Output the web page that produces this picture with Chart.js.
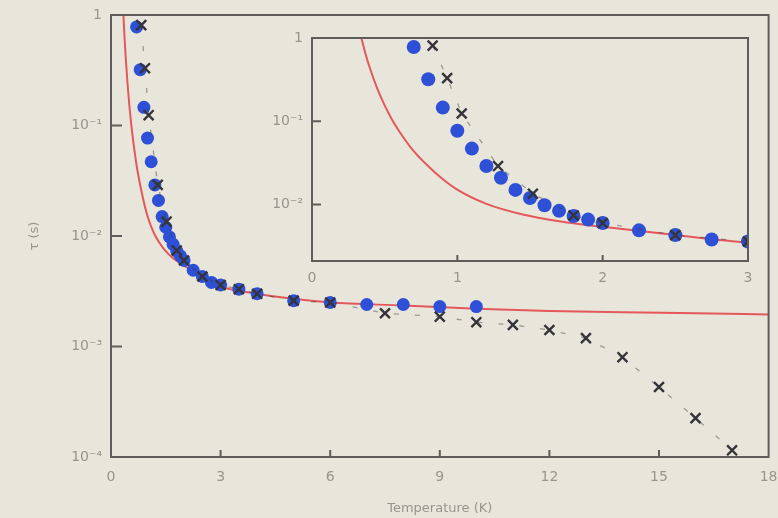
<!DOCTYPE html>
<html>
<head>
<meta charset="utf-8">
<title>Relaxation time vs temperature</title>
<script src="https://cdn.jsdelivr.net/npm/chart.js@4.4.1/dist/chart.umd.min.js"></script>
<style>
    html, body { margin: 0; padding: 0; background: #e8e6da; }
    #wrap { position: relative; width: 778px; height: 518px; overflow: hidden; }
    #mainChart { position: absolute; left: 0; top: 0; }
    #insetChart { position: absolute; left: 250px; top: 20px; }
</style>
</head>
<body>
<div id="wrap">
    <canvas id="mainChart" width="778" height="518"></canvas>
    <canvas id="insetChart" width="510" height="270"></canvas>
</div>
<script>
// Data
const circleTemps = [0.7, 0.8, 0.9, 1.0, 1.1, 1.2, 1.3, 1.4, 1.5, 1.6, 1.7, 1.8, 1.9, 2.0, 2.25, 2.5, 2.75, 3.0, 3.5, 4, 5, 6, 7, 8, 9, 10];
const circleTau = [0.78, 0.32, 0.146, 0.077, 0.047, 0.029, 0.021, 0.015, 0.012, 0.0098, 0.0084, 0.0073, 0.0066, 0.0060, 0.0049, 0.0043, 0.0038, 0.0036, 0.0033, 0.0030, 0.0026, 0.0025, 0.0024, 0.0024, 0.0023, 0.0023];

const crossTemps = [0.83, 0.93, 1.03, 1.28, 1.52, 1.8, 2.0, 2.5, 3.0, 3.5, 4, 5, 6, 7.5, 9, 10, 11, 12, 13, 14, 15, 16, 17];
const crossTau = [0.81, 0.33, 0.124, 0.029, 0.0135, 0.0074, 0.0060, 0.0043, 0.0036, 0.0033, 0.0030, 0.0026, 0.0025, 0.0020, 0.00186, 0.00166, 0.00157, 0.00141, 0.00119, 0.0008, 0.00043, 0.000225, 0.000115];

const fitTemps = [0.34, 0.37, 0.4, 0.45, 0.5, 0.55, 0.6, 0.7, 0.85, 1.0, 1.2, 1.45, 1.7, 2.0, 2.5, 3.0, 4, 5, 6, 8, 10, 12, 14, 16, 18];
const fitTau = [1.0, 0.63, 0.427, 0.245, 0.155, 0.105, 0.076, 0.0437, 0.024, 0.0151, 0.0102, 0.0076, 0.0063, 0.0054, 0.0043, 0.0035, 0.0030, 0.0027, 0.0025, 0.00235, 0.0022, 0.0021, 0.00204, 0.0020, 0.00195];

const mainXTicks = [0, 3, 6, 9, 12, 15, 18];
const mainYTicks = [1e-4, 1e-3, 1e-2, 1e-1, 1];
const mainYLabels = ['10\u207B\u2074', '10\u207B\u00B3', '10\u207B\u00B2', '10\u207B\u00B9', '1'];
const insetXTicks = [0, 1, 2, 3];
const insetYTicks = [1e-2, 1e-1, 1];
const insetYLabels = ['10\u207B\u00B2', '10\u207B\u00B9', '1'];

const BG = '#e8e6da';
const TEXT = '#97958d';
const FRAME = '#5e5d59';
const BLUE = '#2d50d6';
const CROSS = '#34343a';
const RED = '#e4575a';
const FONT = "'DejaVu Sans', sans-serif";

function toPoints(xs, ys, maxX) {
    const out = [];
    xs.forEach((x, i) => { if (maxX === undefined || x <= maxX) out.push({ x: x, y: ys[i] }); });
    return out;
}

/**
 * Fills the plot area, then draws the frame and inward tick marks on top.
 */
const boxPlugin = {
    id: 'box',
    beforeDraw(chart, args, opts) {
        const { ctx, chartArea: a } = chart;
        ctx.save();
        ctx.fillStyle = opts.fill;
        ctx.fillRect(a.left, a.top, a.right - a.left, a.bottom - a.top);
        ctx.restore();
    },
    afterDraw(chart, args, opts) {
        const { ctx, chartArea: a, scales } = chart;
        ctx.save();
        ctx.strokeStyle = FRAME;
        ctx.lineWidth = opts.width;
        ctx.strokeRect(a.left, a.top, a.right - a.left, a.bottom - a.top);
        ctx.beginPath();
        scales.x.ticks.forEach(t => {
            const px = scales.x.getPixelForValue(t.value);
            if (px <= a.left + 2 || px >= a.right - 2) return;
            ctx.moveTo(px, a.bottom);
            ctx.lineTo(px, a.bottom - opts.xTick);
        });
        scales.y.ticks.forEach(t => {
            const py = scales.y.getPixelForValue(t.value);
            if (py <= a.top + 2 || py >= a.bottom - 2) return;
            ctx.moveTo(a.left, py);
            ctx.lineTo(a.left + opts.yTick, py);
        });
        ctx.stroke();
        ctx.restore();
    }
};

function makeDatasets(maxX, circleR, crossR) {
    return [
        {
            label: 'cross',
            data: toPoints(crossTemps, crossTau, maxX),
            showLine: true,
            borderColor: 'rgba(60, 60, 60, 0.45)',
            borderWidth: 1.3,
            borderDash: [5, 16],
            pointStyle: 'crossRot',
            pointRadius: crossR,
            pointBorderColor: CROSS,
            pointBorderWidth: 2.4
        },
        {
            label: 'circle',
            data: toPoints(circleTemps, circleTau, maxX),
            showLine: false,
            pointStyle: 'circle',
            pointRadius: circleR,
            pointBackgroundColor: BLUE,
            pointBorderColor: BLUE,
            pointBorderWidth: 0
        },
        {
            label: 'fit',
            data: toPoints(fitTemps, fitTau),
            showLine: true,
            borderColor: RED,
            borderWidth: 2,
            pointRadius: 0,
            cubicInterpolationMode: 'monotone'
        }
    ];
}

function setTicks(values) {
    return scale => { scale.ticks = values.map(v => ({ value: v })); };
}

// fixed axis box, no extra room for overhanging labels
function fixWidth(w) {
    return s => { s.width = w; s.paddingTop = 0; s.paddingBottom = 0; };
}
function fixHeight(h) {
    return s => { s.height = h; s.paddingLeft = 0; s.paddingRight = 0; };
}

function labelFor(values, labels) {
    return value => {
        const i = values.findIndex(v => Math.abs(v - value) / v < 1e-6 || v === value);
        return i >= 0 ? labels[i] : '';
    };
}

// Main chart
new Chart(document.getElementById('mainChart'), {
    type: 'scatter',
    data: { datasets: makeDatasets(undefined, 6.5, 7) },
    plugins: [boxPlugin],
    options: {
        responsive: false,
        animation: false,
        layout: { padding: { left: 0, right: 6, top: 15, bottom: 0 } },
        plugins: {
            legend: { display: false },
            tooltip: { enabled: false },
            box: { fill: BG, width: 2, xTick: 7, yTick: 11 }
        },
        scales: {
            x: {
                type: 'linear', min: 0, max: 18,
                afterBuildTicks: setTicks(mainXTicks),
                afterFit: fixHeight(61),
                grid: { display: false, drawTicks: false },
                border: { display: false },
                ticks: { color: TEXT, font: { family: FONT, size: 14 }, padding: 12 },
                title: { display: true, text: 'Temperature (K)', color: TEXT, font: { family: FONT, size: 13 }, padding: { top: 0, bottom: 2 } }
            },
            y: {
                type: 'logarithmic', min: 1e-4, max: 1,
                afterBuildTicks: setTicks(mainYTicks),
                afterFit: fixWidth(111),
                grid: { display: false, drawTicks: false },
                border: { display: false },
                ticks: { color: TEXT, font: { family: FONT, size: 14 }, padding: 9, callback: labelFor(mainYTicks, mainYLabels) },
                title: { display: true, text: '\u03C4 (s)', color: TEXT, font: { family: FONT, size: 13 }, padding: { top: 27, bottom: 0 } }
            }
        }
    }
});

// Inset chart (zoom on 0-3 K)
new Chart(document.getElementById('insetChart'), {
    type: 'scatter',
    data: { datasets: makeDatasets(3.1, 7, 7) },
    plugins: [boxPlugin],
    options: {
        responsive: false,
        animation: false,
        layout: { padding: { left: 0, right: 12, top: 18, bottom: 0 } },
        plugins: {
            legend: { display: false },
            tooltip: { enabled: false },
            box: { fill: BG, width: 2, xTick: 6, yTick: 9 }
        },
        scales: {
            x: {
                type: 'linear', min: 0, max: 3,
                afterBuildTicks: setTicks(insetXTicks),
                afterFit: fixHeight(29),
                grid: { display: false, drawTicks: false },
                border: { display: false },
                ticks: { color: TEXT, font: { family: FONT, size: 14 }, padding: 9 }
            },
            y: {
                type: 'logarithmic', min: 0.0021, max: 1,
                afterBuildTicks: setTicks(insetYTicks),
                afterFit: fixWidth(62),
                grid: { display: false, drawTicks: false },
                border: { display: false },
                ticks: { color: TEXT, font: { family: FONT, size: 14 }, padding: 9, callback: labelFor(insetYTicks, insetYLabels) }
            }
        }
    }
});
</script>
</body>
</html>
